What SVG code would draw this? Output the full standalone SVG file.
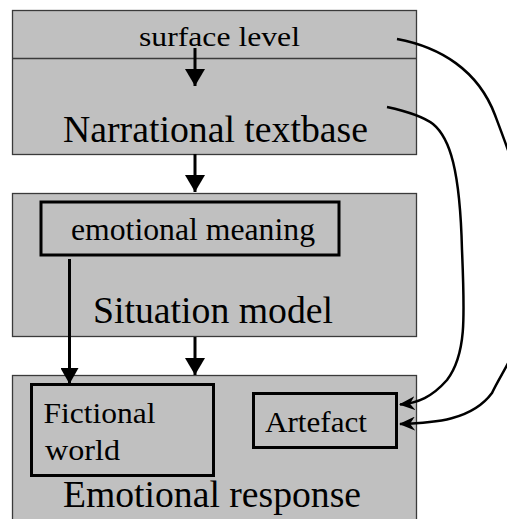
<svg xmlns="http://www.w3.org/2000/svg" width="507" height="519" viewBox="0 0 507 519">
<style>
.box{fill:#c0c0c0;stroke:#3a3a3a;stroke-width:1.3}
.inner{fill:none;stroke:#000;stroke-width:3}
.t{fill:#000}
.big{font-size:38px}
.vline{stroke:#000;stroke-width:3;fill:none}
.curve{stroke:#000;stroke-width:2.5;fill:none;marker-end:url(#stealth)}
</style>
<defs>
<marker id="tri" markerUnits="userSpaceOnUse" viewBox="0 0 17 20" refX="17" refY="10" markerWidth="17" markerHeight="20" orient="auto">
<path d="M0,0 L17,10 L0,20 z" fill="#000"/>
</marker>
<marker id="tri2" markerUnits="userSpaceOnUse" viewBox="0 0 16 18" refX="16" refY="9" markerWidth="16" markerHeight="18" orient="auto">
<path d="M0,0 L16,9 L0,18 z" fill="#000"/>
</marker>
<marker id="stealth" markerUnits="userSpaceOnUse" viewBox="0 0 16 14" refX="15" refY="7" markerWidth="16" markerHeight="14" orient="auto">
<path d="M0,0 L16,7 L0,14 L5,7 z" fill="#000"/>
</marker>
</defs>
<g font-family="Liberation Serif, Times New Roman, serif">
<g id="top-box">
<rect class="box" x="12.5" y="10.5" width="404" height="144"/>
<line x1="12.5" y1="58.5" x2="416.5" y2="58.5" stroke="#3a3a3a" stroke-width="1.3"/>
<text class="t" x="139" y="45.5" font-size="27" textLength="161" lengthAdjust="spacingAndGlyphs">surface level</text>
<text class="t big" x="63" y="141.5" textLength="305" lengthAdjust="spacingAndGlyphs">Narrational textbase</text>
</g>
<g id="situation-model">
<rect class="box" x="12.5" y="193.5" width="404" height="143"/>
<rect class="inner" x="41" y="202" width="298" height="53"/>
<text class="t" x="71" y="240" font-size="32" textLength="244" lengthAdjust="spacingAndGlyphs">emotional meaning</text>
<text class="t big" x="93" y="322.5" textLength="240" lengthAdjust="spacingAndGlyphs">Situation model</text>
</g>
<g id="emotional-response">
<rect class="box" x="12.5" y="375.5" width="404" height="160"/>
<rect class="inner" x="31.5" y="384.5" width="182" height="91"/>
<text class="t" x="43.5" y="422.5" font-size="30" textLength="112" lengthAdjust="spacingAndGlyphs">Fictional</text>
<text class="t" x="45" y="460" font-size="30" textLength="75" lengthAdjust="spacingAndGlyphs">world</text>
<rect class="inner" x="253.5" y="393.5" width="143" height="54"/>
<text class="t" x="265" y="431.5" font-size="29" textLength="102" lengthAdjust="spacingAndGlyphs">Artefact</text>
<text class="t big" x="63" y="506.5" textLength="298" lengthAdjust="spacingAndGlyphs">Emotional response</text>
</g>
</g>
<g id="connectors">
<line class="vline" x1="195" y1="48" x2="195" y2="86" marker-end="url(#tri)"/>
<line class="vline" x1="195" y1="154" x2="195" y2="192" marker-end="url(#tri)"/>
<line class="vline" x1="195" y1="337" x2="195" y2="375" marker-end="url(#tri)"/>
<line class="vline" x1="69.5" y1="259" x2="69.5" y2="384" stroke-width="2.5" marker-end="url(#tri2)"/>
<path class="curve" d="M397,39 C440,47 478,70 495,115 C512,160 535,220 535,260 C535,330 505,365 492,393 C472,420 435,423 400,424"/>
<path class="curve" d="M387,107 C410,112 425,118 433,124 C450,138 460,170 462,250 C465,320 466,355 447,380 C432,397 418,403 400,404.5"/>
</g>
</svg>
